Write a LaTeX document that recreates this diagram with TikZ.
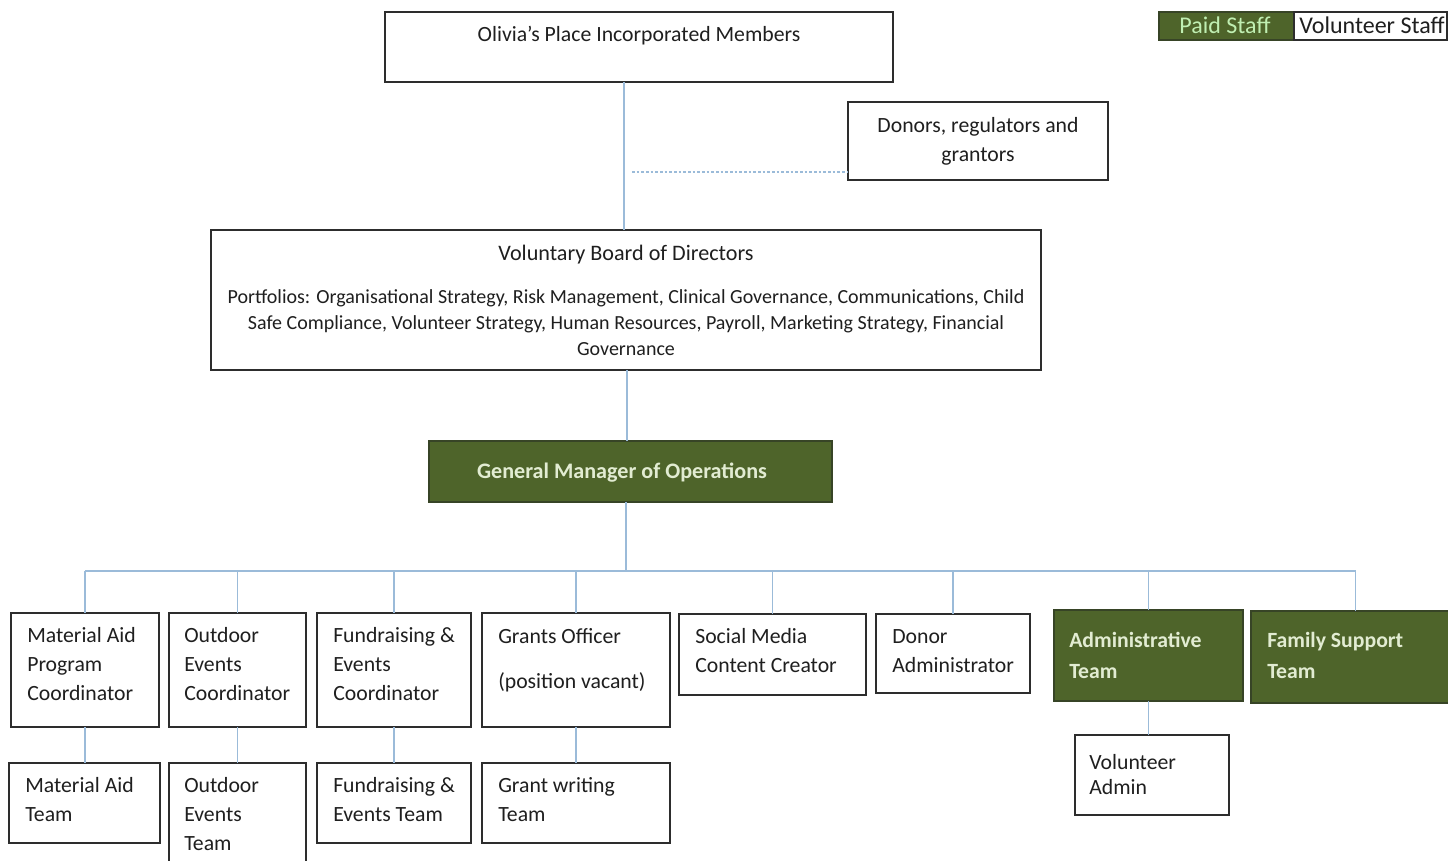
\documentclass[tikz,border=0pt]{standalone}
\usepackage{fontspec}
\setmainfont{Carlito}
\definecolor{conn}{RGB}{155,187,217}
\definecolor{paid}{RGB}{78,100,42}
\definecolor{paidedge}{RGB}{55,68,38}
\definecolor{paidtxt}{RGB}{226,236,210}
\definecolor{edge}{RGB}{45,45,45}
\newcommand\mkbox[6]{%
  \pgfmathsetmacro\bxw{(#4-#2)*0.75}%
  \pgfmathsetmacro\bxh{(#5-#3)*0.75}%
  \node[#6, minimum width=\bxw pt, minimum height=\bxh pt, anchor=north west] (#1) at (#2,#3) {};}
\tikzset{
  wbox/.style={draw=edge, line width=1.1pt, fill=white, inner sep=0pt, outer sep=0pt},
  gbox/.style={draw=paidedge, line width=0.8pt, fill=paid, inner sep=0pt, outer sep=0pt},
  link/.style={draw=conn, line width=1.1pt},
  dlink/.style={draw=conn, line width=0.8pt, dash pattern=on 2pt off 1.5pt},
  lbl/.style={inner sep=0pt, anchor=base west, align=left, text=black!88, font=\fontsize{16.3}{21.4}\selectfont},
  glbl/.style={lbl, text=paidtxt, font=\bfseries\fontsize{16.3}{23.25}\selectfont},
  clbl/.style={inner sep=0pt, anchor=base, align=center, text=black!88, font=\fontsize{16.3}{21.75}\selectfont},
}
\begin{document}
\begin{tikzpicture}[x=0.75pt,y=-0.75pt]
\useasboundingbox (0,0) rectangle (1448,860);
% legend
\mkbox{lgpaid}{1159}{12}{1294}{40}{gbox}
\mkbox{lgvol}{1294}{12}{1447}{40}{wbox, line width=0.8pt}
\node[clbl, text=paidtxt!85!green, font=\fontsize{18}{20}\selectfont] (lgpaidt) at (1225,33) {Paid Staff};
\node[clbl, font=\fontsize{18}{20}\selectfont] (lgvolt) at (1372,33) {Volunteer Staff};
% top boxes
\mkbox{olivia}{385}{12}{893}{82}{wbox}
\node[clbl] (oliviat) at (639,41) {Olivia’s Place Incorporated Members};
\mkbox{donors}{848}{102}{1108}{180}{wbox}
\node[clbl] (donorst) at (978,161) {Donors, regulators and\\grantors};
\mkbox{board}{211}{230}{1041}{370}{wbox}
\node[clbl, font=\fontsize{16.6}{20}\selectfont] (boardt) at (626,260) {Voluntary Board of Directors};
\node[clbl, font=\fontsize{15}{19.5}\selectfont] (boardp) at (626,355) {Portfolios: Organisational Strategy, Risk Management, Clinical Governance, Communications, Child\\Safe Compliance, Volunteer Strategy, Human Resources, Payroll, Marketing Strategy, Financial\\Governance};
\mkbox{gm}{429}{441}{832}{502}{gbox}
\node[clbl, text=paidtxt, font=\bfseries\fontsize{16.6}{20}\selectfont] (gmt) at (622,478) {General Manager of Operations};
% row 1
\mkbox{m1}{11}{613}{159}{727}{wbox}
\mkbox{m2}{169}{613}{306}{727}{wbox}
\mkbox{m3}{317}{613}{471}{727}{wbox}
\mkbox{m4}{482}{613}{670}{727}{wbox}
\mkbox{m5}{679}{614}{866}{695}{wbox}
\mkbox{m6}{876}{614}{1030}{693}{wbox}
\mkbox{m7}{1054}{610}{1243}{701}{gbox}
\mkbox{m8}{1251}{611}{1460}{703}{gbox}
\node[lbl] (m1t) at (27,700) {Material Aid\\Program\\Coordinator};
\node[lbl] (m2t) at (184,700) {Outdoor\\Events\\Coordinator};
\node[lbl] (m3t) at (333,700) {Fundraising \&\\Events\\Coordinator};
\node[lbl] (m4t) at (498,643) {Grants Officer};
\node[lbl] (m4u) at (498,688) {(position vacant)};
\node[lbl] (m5t) at (695,672.5) {Social Media\\Content Creator};
\node[lbl] (m6t) at (892,672.5) {Donor\\Administrator};
\node[glbl] (m7t) at (1069,678) {Administrative\\Team};
\node[glbl] (m8t) at (1267,678) {Family Support\\Team};
% row 2
\mkbox{r1}{9}{763}{160}{843}{wbox}
\mkbox{r2}{169}{763}{306}{880}{wbox}
\mkbox{r3}{317}{763}{471}{843}{wbox}
\mkbox{r4}{482}{763}{670}{843}{wbox}
\mkbox{va}{1075}{735}{1229}{815}{wbox}
\node[lbl] (r1t) at (25,821.5) {Material Aid\\Team};
\node[lbl] (r2t) at (184,850) {Outdoor\\Events\\Team};
\node[lbl] (r3t) at (333,821.5) {Fundraising \&\\Events Team};
\node[lbl] (r4t) at (498,821.5) {Grant writing\\Team};
\node[lbl, font=\fontsize{16.3}{18.75}\selectfont] (vat) at (1089,794) {Volunteer\\Admin};
% connectors
\coordinate (s1) at (624,0);
\coordinate (s2) at (627,0);
\coordinate (s3) at (626,0);
\coordinate (busy) at (0,571);
\coordinate (dashend) at (632,172);
\draw[link] (olivia.south -| s1) -- (board.north -| s1);
\draw[dlink] (dashend) -- (dashend -| donors.west);
\draw[link] (board.south -| s2) -- (gm.north -| s2);
\draw[link] (gm.south -| s3) -- (s3 |- busy);
\draw[link] (m1.north |- busy) -- (m8.north |- busy);
\foreach \n in {m1,m2,m3,m4,m5,m6,m7,m8}{\draw[link] (\n.north) -- (\n.north |- busy);}
\draw[link] (m1.south) -- (r1.north -| m1.south);
\draw[link] (m2.south) -- (r2.north -| m2.south);
\draw[link] (m3.south) -- (r3.north -| m3.south);
\draw[link] (m4.south) -- (r4.north -| m4.south);
\draw[link] (m7.south) -- (va.north -| m7.south);
\end{tikzpicture}
\end{document}
